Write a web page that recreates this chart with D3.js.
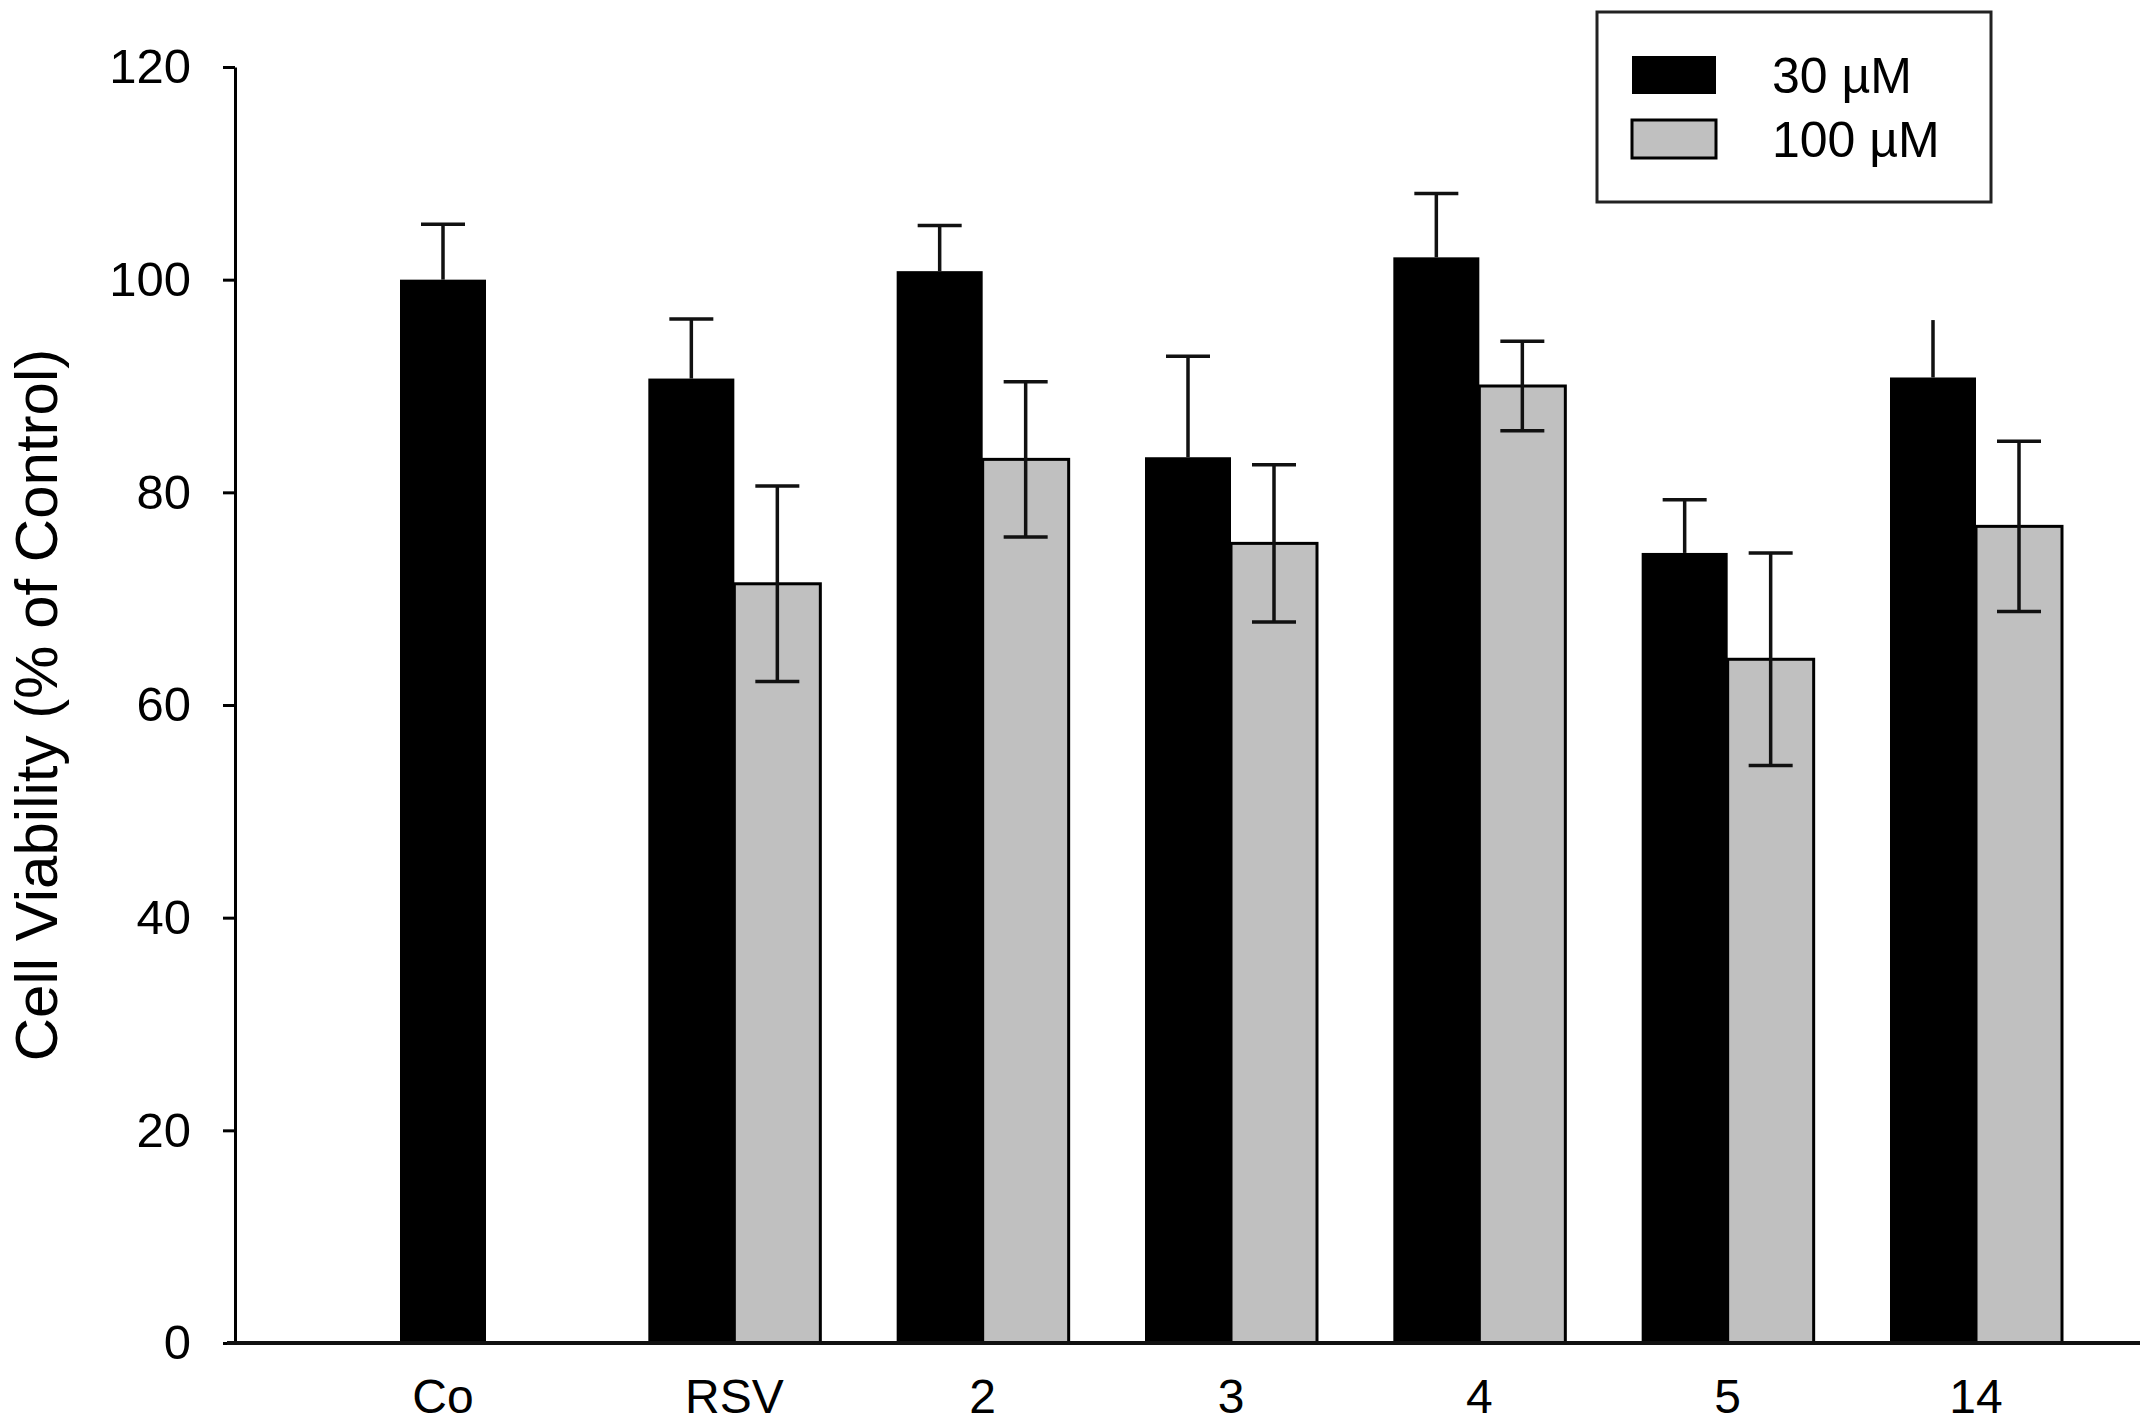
<!DOCTYPE html>
<html>
<head>
<meta charset="utf-8">
<script src="https://cdn.jsdelivr.net/npm/d3@7"></script>
<style>
  html, body { margin: 0; padding: 0; background: #fff; }
  svg { display: block; }
  text { font-family: "Liberation Sans", Arial, sans-serif; fill: #000; }
</style>
</head>
<body>
<svg id="chart" width="2141" height="1426"></svg>
<script>
// ---- data ----
const categories = ["Co", "RSV", "2", "3", "4", "5", "14"];
const seriesNames = ["30 µM", "100 µM"];
const values30  = [100.0, 90.7, 100.8, 83.3, 102.1, 74.3, 90.8];
const errors30  = [5.2, 5.6, 4.3, 9.5, 6.0, 5.0, 5.4];
const values100 = [null, 71.4, 83.1, 75.2, 90.0, 64.3, 76.8];
const errors100 = [null, 9.2, 7.3, 7.4, 4.2, 10.0, 8.0];
const yTicks = [0, 20, 40, 60, 80, 100, 120];
const yTitle = "Cell Viability (% of Control)";

// ---- layout ----
const svg = d3.select("#chart");
const axisX = 235, axisTop = 67, axisBottom = 1343, axisRight = 2140;
const barW = 86;
const capW = 44;
const colors = ["#000000", "#c0c0c0"];

const y = d3.scaleLinear().domain([0, 120]).range([axisBottom, axisTop]);
const x = d3.scalePoint().domain(categories).range([486, 1976]);

const rows = categories.map((c, i) => ({
  cat: c,
  vals: [values30[i], values100[i]],
  errs: [errors30[i], errors100[i]]
}));

// bars
const barData = [];
rows.forEach(r => {
  r.vals.forEach((v, s) => {
    if (v == null) return;
    barData.push({ cat: r.cat, s, v, e: r.errs[s] });
  });
});
const barX = d => x(d.cat) + (d.s === 0 ? -barW : 0);

svg.append("g").selectAll("rect").data(barData).join("rect")
  .attr("x", barX)
  .attr("y", d => y(d.v))
  .attr("width", barW)
  .attr("height", d => y(0) - y(d.v))
  .attr("fill", d => colors[d.s])
  .attr("stroke", d => d.s === 1 ? "#000" : "none")
  .attr("stroke-width", 3);

// error bars
const eg = svg.append("g").attr("stroke", "#111").attr("stroke-width", 3.5).attr("fill", "none");
barData.forEach(d => {
  const cx = barX(d) + barW / 2;
  const lo = d.s === 0 ? d.v : d.v - d.e;
  eg.append("line").attr("x1", cx).attr("x2", cx).attr("y1", y(lo)).attr("y2", y(d.v + d.e));
  const noTopCap = d.cat === "14" && d.s === 0;
  if (!noTopCap) {
    eg.append("line").attr("x1", cx - capW / 2).attr("x2", cx + capW / 2)
      .attr("y1", y(d.v + d.e)).attr("y2", y(d.v + d.e));
  }
  if (d.s === 1) {
    eg.append("line").attr("x1", cx - capW / 2).attr("x2", cx + capW / 2)
      .attr("y1", y(d.v - d.e)).attr("y2", y(d.v - d.e));
  }
});

// y axis
const yAxis = svg.append("g")
  .attr("transform", `translate(${axisX},0)`)
  .call(d3.axisLeft(y).tickValues(yTicks).tickSize(12).tickPadding(32).tickSizeOuter(0));
yAxis.select(".domain").attr("stroke", "#000").attr("stroke-width", 3);
yAxis.selectAll(".tick line").attr("stroke", "#000").attr("stroke-width", 3);
yAxis.selectAll(".tick text").attr("font-size", 49).attr("font-family", "Liberation Sans, Arial, sans-serif");

// x axis line
svg.append("line").attr("x1", axisX - 8).attr("x2", axisRight)
  .attr("y1", y(0)).attr("y2", y(0))
  .attr("stroke", "#111").attr("stroke-width", 4);

// x labels
svg.append("g").selectAll("text").data(rows).join("text")
  .attr("x", r => (r.vals[1] == null ? x(r.cat) - barW / 2 : x(r.cat)))
  .attr("y", 1413)
  .attr("text-anchor", "middle")
  .attr("font-size", 48)
  .text(r => r.cat);

// y title
svg.append("text")
  .attr("transform", `translate(57,${(axisTop + axisBottom) / 2}) rotate(-90)`)
  .attr("text-anchor", "middle")
  .attr("font-size", 60)
  .text(yTitle);

// legend
const lg = svg.append("g");
lg.append("rect").attr("x", 1597).attr("y", 12).attr("width", 394).attr("height", 190)
  .attr("fill", "#fff").attr("stroke", "#222").attr("stroke-width", 3);
const legendY = d3.scalePoint().domain(seriesNames).range([75, 139]);
seriesNames.forEach((n, s) => {
  lg.append("rect").attr("x", 1632).attr("y", legendY(n) - 19).attr("width", 84).attr("height", 38)
    .attr("fill", colors[s]).attr("stroke", s === 1 ? "#000" : "none").attr("stroke-width", 3);
  lg.append("text").attr("x", 1772).attr("y", legendY(n) + 18).attr("font-size", 50).text(n);
});
</script>
</body>
</html>
